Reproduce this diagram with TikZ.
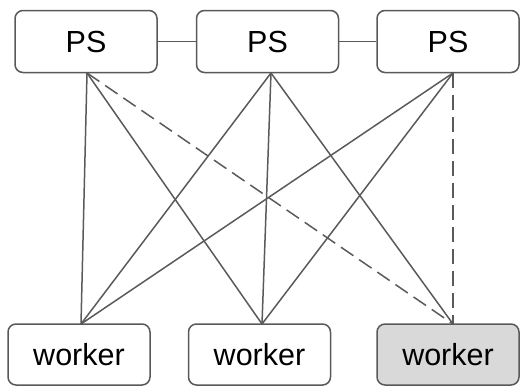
\documentclass[tikz,border=0pt]{standalone}
\usepackage{fontspec}
\setmainfont{Liberation Sans}
\definecolor{edgegray}{HTML}{5A5A5A}
\definecolor{boxgray}{HTML}{595959}
\definecolor{shade}{HTML}{D9D9D9}
\begin{document}
\begin{tikzpicture}[x=1pt,y=-1pt,
  box/.style={draw=boxgray, line width=1.5pt, rounded corners=8pt, fill=white,
    minimum width=142pt, minimum height=62pt, inner sep=0pt,
    font=\fontsize{30.5}{36}\selectfont},
  link/.style={draw=edgegray, line width=1.5pt},
  dlink/.style={link, dash pattern=on 15pt off 7pt}]
\useasboundingbox (0,0) rectangle (529,386);
% anchor points
\coordinate (p1) at (87,73);
\coordinate (p2) at (271,73);
\coordinate (p3) at (453,73);
\coordinate (w1) at (81,324);
\coordinate (w2) at (262,324);
\coordinate (w3) at (453,324);
% edges
\draw[link] (p1) -- (w1);
\draw[link] (p1) -- (w2);
\draw[dlink] (p1) -- (w3);
\draw[link] (p2) -- (w1);
\draw[link] (p2) -- (w2);
\draw[link] (p2) -- (w3);
\draw[link] (p3) -- (w1);
\draw[link] (p3) -- (w2);
\draw[dlink] (p3) -- (w3);
% PS nodes
\node[box] (ps1) at (86,41.5) {PS};
\node[box] (ps2) at (267.5,41.5) {PS};
\node[box] (ps3) at (448,41.5) {PS};
\draw[link] (ps1.east) -- (ps2.west);
\draw[link] (ps2.east) -- (ps3.west);
% workers
\node[box, minimum height=61pt] (wk1) at (79,354.5) {worker};
\node[box, minimum height=61pt] (wk2) at (259.5,354.5) {worker};
\node[box, minimum height=61pt, fill=shade] (wk3) at (448,354.5) {worker};
\end{tikzpicture}
\end{document}
